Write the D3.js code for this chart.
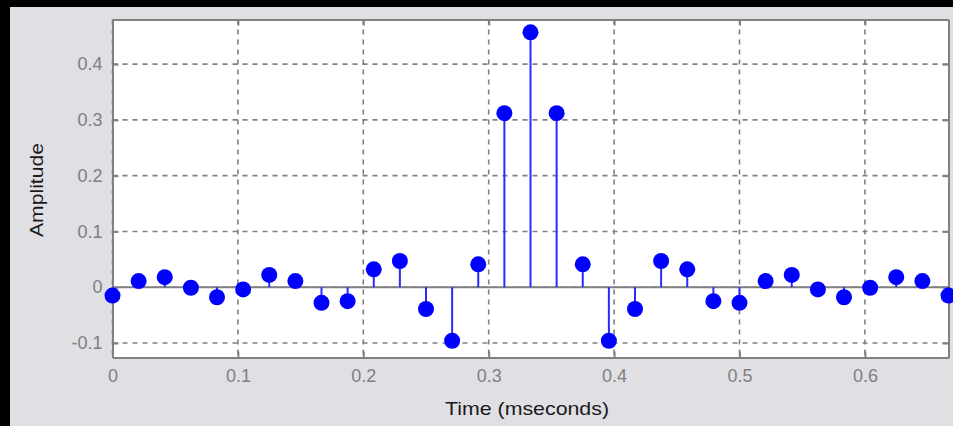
<!DOCTYPE html>
<html lang="en">
  <head>
    <meta charset="UTF-8" />
    <title>Stem Plot</title>
    <script src="https://cdn.jsdelivr.net/npm/d3@7"></script>
    <style>
      body {
        margin: 0;
        background-color: #000000;
        font-family: "Liberation Sans", Arial, sans-serif;
      }
      #stem_chart {
        width: 953px;
        height: 426px;
      }
    </style>
  </head>
  <body>
    <div id="stem_chart"></div>

    <script>
      // Sample index (48 kHz sampling, time in ms)
      const sampleIndex = d3.range(0, 33);
      const sampleStep = 1 / 48;
      // Amplitude
      const amplitude = [
        -0.015, 0.011, 0.018, -0.001, -0.018, -0.004, 0.022, 0.011, -0.028,
        -0.025, 0.032, 0.047, -0.039, -0.096, 0.041, 0.312, 0.457, 0.312,
        0.041, -0.096, -0.039, 0.047, 0.032, -0.025, -0.028, 0.011, 0.022,
        -0.004, -0.018, -0.001, 0.018, 0.011, -0.015,
      ];
      const xTicks = [0, 0.1, 0.2, 0.3, 0.4, 0.5, 0.6];
      const yTicks = [-0.1, 0, 0.1, 0.2, 0.3, 0.4];

      plotStem();

      function plotStem() {
        const element_id = "div#stem_chart";
        const fullWidth = 953;
        const fullHeight = 426;

        const svg = d3
          .select(element_id)
          .append("svg")
          .attr("width", fullWidth)
          .attr("height", fullHeight);

        // gray figure area (black band on top and left)
        svg
          .append("rect")
          .attr("x", 10)
          .attr("y", 7)
          .attr("width", fullWidth - 10)
          .attr("height", fullHeight - 7)
          .attr("fill", "#dfdfe4");

        const margin = { top: 19.5, left: 112.5 };
        const width = 948.5 - margin.left;
        const height = 357.5 - margin.top;

        const g = svg
          .append("g")
          .attr("transform", `translate(${margin.left},${margin.top})`);

        const x = d3.scaleLinear().domain([0, 2 / 3]).range([0, width]);
        const y = d3.scaleLinear().domain([-0.126, 0.48]).range([height, 0]);

        g.append("rect")
          .attr("width", width)
          .attr("height", height)
          .attr("fill", "#ffffff");

        // dashed grid
        g.append("g")
          .selectAll("line")
          .data(xTicks)
          .join("line")
          .attr("x1", (d) => x(d))
          .attr("x2", (d) => x(d))
          .attr("y1", 0)
          .attr("y2", height)
          .attr("stroke", "#808080")
          .attr("stroke-width", 1.6)
          .attr("stroke-dasharray", "5,5");
        g.append("g")
          .selectAll("line")
          .data(yTicks)
          .join("line")
          .attr("x1", 0)
          .attr("x2", width)
          .attr("y1", (d) => y(d))
          .attr("y2", (d) => y(d))
          .attr("stroke", "#808080")
          .attr("stroke-width", 1.6)
          .attr("stroke-dasharray", "5,5");

        // axes with inward ticks
        const fmt = (d) => String(d);
        const xAxis = g
          .append("g")
          .attr("transform", `translate(0, ${height})`)
          .call(
            d3
              .axisBottom(x)
              .tickValues(xTicks)
              .tickFormat(fmt)
              .tickSizeInner(-6)
              .tickSizeOuter(0)
              .tickPadding(12)
          );
        const xTop = g.append("g").call(
          d3.axisTop(x).tickValues(xTicks).tickFormat("").tickSizeInner(-6).tickSizeOuter(0)
        );
        const yAxis = g.append("g").call(
          d3
            .axisLeft(y)
            .tickValues(yTicks)
            .tickFormat(fmt)
            .tickSizeInner(-6)
            .tickSizeOuter(0)
            .tickPadding(10)
        );
        const yRight = g
          .append("g")
          .attr("transform", `translate(${width}, 0)`)
          .call(
            d3.axisRight(y).tickValues(yTicks).tickFormat("").tickSizeInner(-6).tickSizeOuter(0)
          );

        [xAxis, xTop, yAxis, yRight].forEach((a) => {
          a.style("color", "#808080");
          a.selectAll("path, line").attr("stroke-width", 2);
          a.selectAll(".tick text")
            .style("font-family", '"Liberation Sans", Arial, sans-serif')
            .style("font-size", "18px")
            .attr("fill", "#808080");
        });

        // baseline at zero
        g.append("line")
          .attr("x1", 0)
          .attr("x2", width)
          .attr("y1", y(0))
          .attr("y2", y(0))
          .attr("stroke", "#808080")
          .attr("stroke-width", 2);

        const points = sampleIndex.map((i) => ({
          t: i * sampleStep,
          v: amplitude[i],
        }));

        // stems
        g.append("g")
          .selectAll("line")
          .data(points)
          .join("line")
          .attr("x1", (d) => x(d.t))
          .attr("x2", (d) => x(d.t))
          .attr("y1", y(0))
          .attr("y2", (d) => y(d.v))
          .attr("stroke", "#2a2aff")
          .attr("stroke-width", 2);

        // markers
        g.append("g")
          .selectAll("circle")
          .data(points)
          .join("circle")
          .attr("cx", (d) => x(d.t))
          .attr("cy", (d) => y(d.v))
          .attr("r", 8)
          .attr("fill", "#0000ff");

        // axis labels
        svg
          .append("text")
          .attr("x", 527)
          .attr("y", 415)
          .attr("text-anchor", "middle")
          .attr("textLength", 164)
          .attr("lengthAdjust", "spacingAndGlyphs")
          .style("font-size", "19px")
          .attr("fill", "#1a1a1a")
          .text("Time (mseconds)");

        svg
          .append("text")
          .attr("transform", "translate(43, 190) rotate(-90)")
          .attr("text-anchor", "middle")
          .attr("textLength", 94)
          .attr("lengthAdjust", "spacingAndGlyphs")
          .style("font-size", "19px")
          .attr("fill", "#1a1a1a")
          .text("Amplitude");
      }
    </script>
  </body>
</html>
